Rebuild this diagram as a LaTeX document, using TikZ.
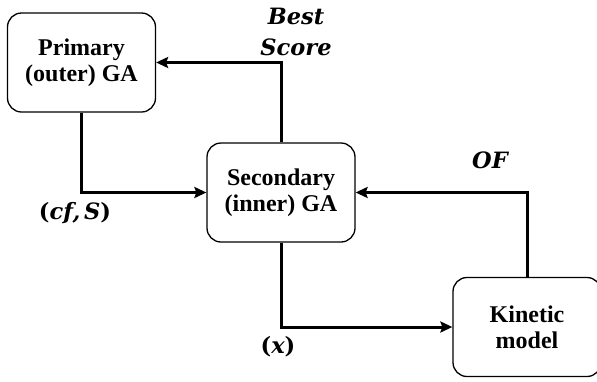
\documentclass[tikz,border=0pt]{standalone}
\usepackage{fontspec}
\setmainfont{Liberation Serif}
\newfontfamily\labelfont{DejaVu Serif}
\usetikzlibrary{arrows.meta}

\begin{document}
\begin{tikzpicture}[x=1pt, y=-1pt]

	\def\boxw{148pt}
	\def\boxh{99pt}

	% Colours
	\colorlet{boxcolor}{black}
	\colorlet{flowcolor}{black}

	% Styles
	\tikzstyle{gabox} = [draw=boxcolor, line width=1.3pt, rounded corners=14pt,
		minimum width=\boxw, minimum height=\boxh, align=center,
		font=\bfseries\fontsize{24}{26}\selectfont]
	\tikzstyle{flow} = [flowcolor, line width=3pt, -{Stealth[length=12pt, width=11pt, inset=2pt]}]
	\tikzstyle{flowlabel} = [align=center, font=\labelfont\bfseries\itshape\fontsize{22.5}{31}\selectfont]

	\useasboundingbox (0, 0) rectangle (597, 381);

	%== Boxes ==================================================================
	\node[gabox] (primary)   at (81.5, 62.5) {Primary\\(outer) GA};
	\node[gabox] (secondary) at (281, 192.5) {Secondary\\(inner) GA};
	\node[gabox] (kinetic)   at (527, 327)   {Kinetic\\model};

	%== Flows ==================================================================
	\draw[flow] (secondary.north) |- (primary.east);
	\draw[flow] (primary.south)   |- (secondary.west);
	\draw[flow] (kinetic.north)   |- (secondary.east);
	\draw[flow] (secondary.south) |- (kinetic.west);

	% Labels
	\node[flowlabel] (bestscore) at (296, 32)  {Best\\Score};
	\node[flowlabel] (of)        at (490, 160) {OF};
	\node[flowlabel] (cfs)       at (75, 213)  {{\upshape(}cf,\,S{\upshape)}};
	\node[flowlabel] (xval)      at (278, 347) {{\upshape(}x{\upshape)}};

\end{tikzpicture}
\end{document}
